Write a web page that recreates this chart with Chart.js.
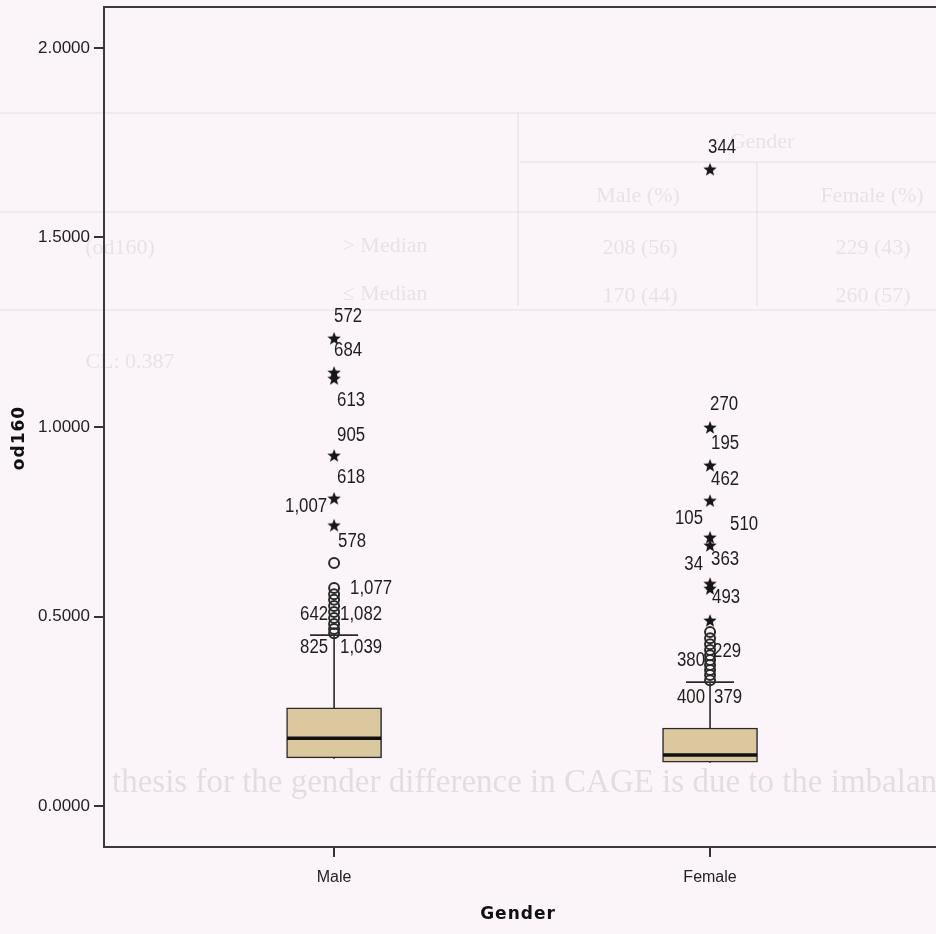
<!DOCTYPE html>
<html>
<head>
<meta charset="utf-8">
<script src="https://cdn.jsdelivr.net/npm/chart.js@4.4.0/dist/chart.umd.min.js"></script>
<style>
  html, body { margin: 0; padding: 0; background: #fbf4f8; overflow: hidden; }
  canvas { display: block; }
</style>
</head>
<body>
<canvas id="chart" width="936" height="934"></canvas>
<script>
const categories = ["Male", "Female"];
const yTicks = [0, 0.5, 1, 1.5, 2];

// box summaries, one entry per category
const whiskerLow = [0.125, 0.114];
const q1 = [0.127, 0.116];
const median = [0.179, 0.135];
const q3 = [0.259, 0.206];
const whiskerHigh = [0.451, 0.327];

// outliers (circles) and extremes (stars)
const maleOutliers = [0.641, 0.575, 0.559, 0.544, 0.528, 0.512, 0.496, 0.480, 0.467, 0.456];
const maleExtremes = [1.235, 1.145, 1.129, 0.926, 0.813, 0.742];
const femaleOutliers = [0.459, 0.443, 0.427, 0.412, 0.398, 0.385, 0.372, 0.359, 0.346, 0.332];
const femaleExtremes = [1.681, 1.000, 0.900, 0.807, 0.710, 0.689, 0.588, 0.575, 0.491];

// case numbers printed beside the points, and the value of the case each names
const maleIds = ["572", "684", "613", "905", "618", "1,007", "578", "1,077", "642", "1,082", "825", "1,039"];
const maleIdValues = [1.235, 1.235, 1.129, 0.926, 0.926, 0.813, 0.742, 0.575, 0.512, 0.512, 0.456, 0.456];
const femaleIds = ["344", "270", "195", "462", "105", "510", "34", "363", "493", "380", "229", "400", "379"];
const femaleIdValues = [1.681, 1.000, 1.000, 0.900, 0.807, 0.807, 0.689, 0.689, 0.575, 0.385, 0.412, 0.332, 0.332];

// label placement: [dx, dy, align] in pixels from the point
const malePlace = [[0, -21, "left"], [0, 13, "left"], [3, 22, "left"], [3, -20, "left"], [3, 22, "left"],
  [-7, 9, "right"], [4, 17, "left"], [16, 0, "left"], [-6, 3, "right"], [6, 3, "left"],
  [-6, 14, "right"], [6, 14, "left"]];
const femalePlace = [[-2, -21, "left"], [0, -23, "left"], [1, 16, "left"], [1, 15, "left"],
  [-7, 18, "right"], [20, 24, "left"], [-7, 20, "right"], [1, 15, "left"], [2, 9, "left"],
  [-5, 0, "right"], [3, 2, "left"], [-5, 17, "right"], [4, 17, "left"]];

const sans = '"Liberation Sans", Arial, sans-serif';
const ink = "#2a2a2a";

function makeStar(size) {
  const c = document.createElement("canvas");
  c.width = size;
  c.height = size;
  const g = c.getContext("2d");
  const r = size / 2, ri = r * 0.42;
  g.beginPath();
  for (let k = 0; k < 10; k++) {
    const a = -Math.PI / 2 + (k * Math.PI) / 5;
    const rr = k % 2 ? ri : r;
    g.lineTo(r + rr * Math.cos(a), r + 1 + rr * Math.sin(a));
  }
  g.closePath();
  g.fillStyle = "#161616";
  g.fill();
  return c;
}
const star = makeStar(14);

const pts = (arr, i) => arr.map((v) => ({ x: i, y: v }));

// faint print showing through from the other side of the page
const bleed = {
  id: "bleed",
  beforeDraw(chart) {
    const ctx = chart.ctx;
    ctx.save();
    ctx.fillStyle = "#fbf4f8";
    ctx.fillRect(0, 0, chart.width, chart.height);
    ctx.strokeStyle = "rgba(120,110,115,0.10)";
    ctx.lineWidth = 1.5;
    [[0, 113], [520, 162], [0, 212], [0, 310]].forEach(([x0, y]) => {
      ctx.beginPath(); ctx.moveTo(x0, y); ctx.lineTo(936, y); ctx.stroke();
    });
    [[518, 113], [757, 162]].forEach(([x, y0]) => {
      ctx.beginPath(); ctx.moveTo(x, y0); ctx.lineTo(x, 306); ctx.stroke();
    });
    ctx.fillStyle = "rgba(110,100,105,0.13)";
    ctx.textAlign = "center";
    ctx.textBaseline = "middle";
    ctx.font = '22px "Liberation Serif", serif';
    [["Gender", 762, 142], ["Male (%)", 638, 196], ["Female (%)", 872, 196],
     ["208 (56)", 640, 248], ["229 (43)", 873, 248], ["170 (44)", 640, 296], ["260 (57)", 873, 296],
     ["> Median", 385, 246], ["\u2264 Median", 385, 294], ["(od160)", 120, 248], ["CL: 0.387", 130, 362]]
      .forEach(([t, x, y]) => ctx.fillText(t, x, y));
    ctx.textAlign = "left";
    ctx.fillStyle = "rgba(110,100,105,0.16)";
    ctx.font = '33px "Liberation Serif", serif';
    ctx.fillText("thesis for the gender difference in CAGE is due to the imbalance", 112, 783);
    ctx.restore();
  }
};

// whiskers, caps and medians, drawn right after the boxes
const boxParts = {
  id: "boxParts",
  afterDatasetDraw(chart, args) {
    if (args.index !== 0) return;
    const ctx = chart.ctx, xs = chart.scales.x, ys = chart.scales.y;
    ctx.save();
    categories.forEach((c, i) => {
      const x = xs.getPixelForValue(i);
      ctx.strokeStyle = ink;
      ctx.lineWidth = 1.6;
      ctx.beginPath();
      ctx.moveTo(x, ys.getPixelForValue(q3[i]));
      ctx.lineTo(x, ys.getPixelForValue(whiskerHigh[i]));
      ctx.moveTo(x - 24, ys.getPixelForValue(whiskerHigh[i]));
      ctx.lineTo(x + 24, ys.getPixelForValue(whiskerHigh[i]));
      ctx.moveTo(x, ys.getPixelForValue(q1[i]));
      ctx.lineTo(x, ys.getPixelForValue(whiskerLow[i]));
      ctx.stroke();
      ctx.lineWidth = 3.5;
      ctx.strokeStyle = "#101010";
      ctx.beginPath();
      ctx.moveTo(x - 47, ys.getPixelForValue(median[i]));
      ctx.lineTo(x + 47, ys.getPixelForValue(median[i]));
      ctx.stroke();
    });
    ctx.restore();
  },
  afterDraw(chart) {
    const ctx = chart.ctx, xs = chart.scales.x, ys = chart.scales.y, a = chart.chartArea;
    ctx.save();
    ctx.strokeStyle = "#3a3a3a";
    ctx.lineWidth = 2;
    ctx.beginPath();
    ctx.moveTo(a.left, a.top);
    ctx.lineTo(a.right, a.top);
    ctx.stroke();

    // case ids in a condensed face
    ctx.fillStyle = "#1e1e1e";
    ctx.textBaseline = "middle";
    ctx.font = "20px " + sans;
    const put = (ids, vals, place, i) => {
      const x = xs.getPixelForValue(i);
      ids.forEach((t, k) => {
        const [dx, dy, al] = place[k];
        ctx.save();
        ctx.translate(x + dx, ys.getPixelForValue(vals[k]) + dy);
        ctx.scale(0.84, 1);
        ctx.textAlign = al;
        ctx.fillText(t, 0, 0);
        ctx.restore();
      });
    };
    put(maleIds, maleIdValues, malePlace, 0);
    put(femaleIds, femaleIdValues, femalePlace, 1);

    ctx.font = 'bold 17px "DejaVu Sans", sans-serif';
    ctx.letterSpacing = "1px";
    ctx.textAlign = "center";
    ctx.fillStyle = "#111";
    ctx.fillText("Gender", 518, 915);
    ctx.translate(20, 438);
    ctx.rotate(-Math.PI / 2);
    ctx.fillText("od160", 0, 0);
    ctx.restore();
  }
};

const noPad = (s) => {
  s.paddingLeft = 0;
  s.paddingRight = 0;
  s.paddingTop = 0;
  s.paddingBottom = 0;
};

new Chart(document.getElementById("chart"), {
  type: "bar",
  data: {
    datasets: [
      {
        type: "bar",
        data: categories.map((c, i) => ({ x: i, y: [q1[i], q3[i]] })),
        backgroundColor: "#dcc89e",
        borderColor: ink,
        borderWidth: 1.5,
        borderSkipped: false,
        barThickness: 95,
        order: 10,
      },
      {
        type: "scatter",
        data: pts(maleOutliers, 0),
        pointStyle: "circle",
        pointRadius: 5,
        borderWidth: 2,
        borderColor: ink,
        backgroundColor: "rgba(0,0,0,0)",
        order: 1,
      },
      {
        type: "scatter",
        data: pts(femaleOutliers, 1),
        pointStyle: "circle",
        pointRadius: 5,
        borderWidth: 2,
        borderColor: ink,
        backgroundColor: "rgba(0,0,0,0)",
        order: 1,
      },
      { type: "scatter", data: pts(maleExtremes, 0), pointStyle: star, order: 0 },
      { type: "scatter", data: pts(femaleExtremes, 1), pointStyle: star, order: 0 },
    ],
  },
  options: {
    responsive: false,
    animation: false,
    layout: { autoPadding: false, padding: { top: 7, right: 0, left: 0, bottom: 0 } },
    plugins: { legend: { display: false }, tooltip: { enabled: false } },
    scales: {
      x: {
        type: "linear",
        offset: false,
        min: -0.612,
        max: 1.601,
        afterBuildTicks: (s) => { s.ticks = categories.map((c, i) => ({ value: i })); },
        afterFit: (s) => { s.height = 87; noPad(s); },
        ticks: {
          callback: (v) => categories[v] ?? "",
          font: { family: sans, size: 16 },
          color: "#222",
          padding: 11,
          maxRotation: 0,
          autoSkip: false,
        },
        grid: { offset: false, drawOnChartArea: false, drawTicks: true, tickLength: 10, color: "#333", lineWidth: 2 },
        border: { display: true, color: "#3a3a3a", width: 2 },
      },
      y: {
        min: -0.108,
        max: 2.108,
        afterBuildTicks: (s) => { s.ticks = yTicks.map((v) => ({ value: v })); },
        afterFit: (s) => { s.width = 104; noPad(s); },
        ticks: {
          callback: (v) => Number(v).toFixed(4),
          font: { family: sans, size: 17 },
          color: "#222",
          padding: 4,
        },
        grid: { drawOnChartArea: false, drawTicks: true, tickLength: 10, color: "#333", lineWidth: 2 },
        border: { display: true, color: "#3a3a3a", width: 2 },
      },
    },
  },
  plugins: [bleed, boxParts],
});
</script>
</body>
</html>
